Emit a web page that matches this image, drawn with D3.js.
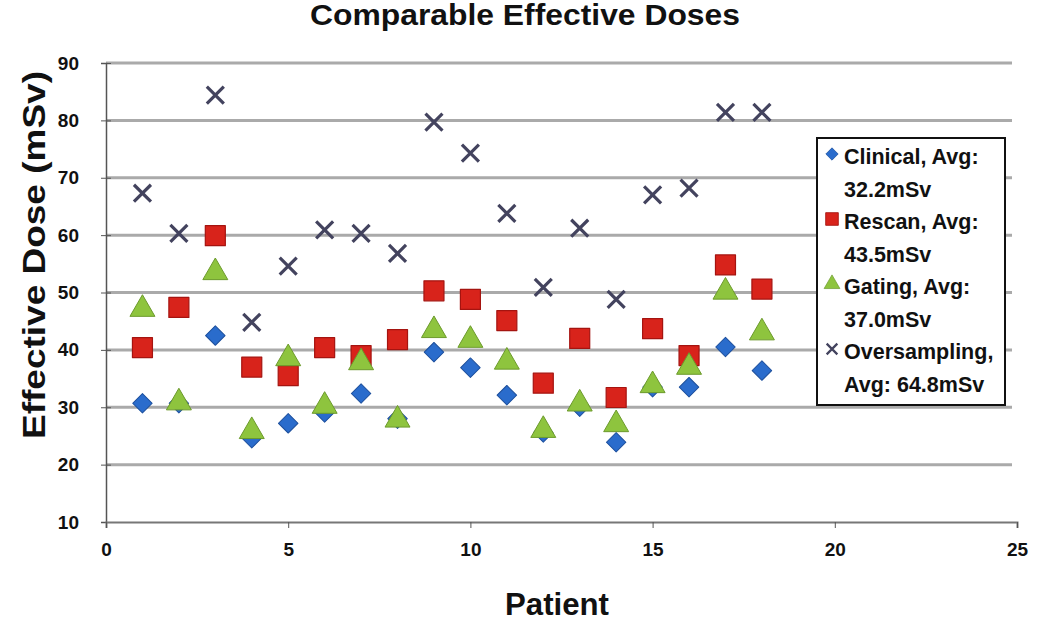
<!DOCTYPE html>
<html><head><meta charset="utf-8">
<script src="https://cdn.jsdelivr.net/npm/d3@7"></script>
<style>
html,body{margin:0;padding:0;background:#fff;}
text{font-family:"Liberation Sans",Arial,sans-serif;font-weight:bold;fill:#111;}
</style></head>
<body><svg id="chart" width="1050" height="624"></svg>
<script>
const patients = [1,2,3,4,5,6,7,8,9,10,11,12,13,14,15,16,17,18];
const clinical = [30.7,30.7,42.5,24.6,27.2,29.1,32.4,28.0,39.6,36.9,32.1,25.6,30.1,23.9,33.5,33.5,40.5,36.4];
const rescan = [40.4,47.4,59.9,37.0,35.5,40.4,39.0,41.8,50.3,48.8,45.1,34.2,42.0,31.7,43.7,39.0,54.8,50.6];
const gating = [47.1,30.8,53.5,25.8,38.5,30.2,37.8,27.8,43.4,41.7,37.9,26.0,30.6,27.0,33.8,37.0,50.1,43.0];
const oversampling = [67.3,60.3,84.4,44.8,54.6,60.9,60.3,56.8,79.7,74.3,63.8,50.9,61.2,48.8,67.0,68.2,81.4,81.4];
const xTicks = [0,5,10,15,20,25];
const yTicks = [10,20,30,40,50,60,70,80,90];
const seriesNames = ["Clinical, Avg:|32.2mSv","Rescan, Avg:|43.5mSv","Gating, Avg:|37.0mSv","Oversampling,|Avg: 64.8mSv"];

const svg = d3.select("#chart");
const x = d3.scaleLinear().domain([0,25]).range([106,1017]);
const y = d3.scaleLinear().domain([10,90]).range([522,63]);

// title
svg.append("text").attr("x",525).attr("y",25).attr("text-anchor","middle")
  .attr("font-size",29).attr("textLength",430).attr("lengthAdjust","spacingAndGlyphs")
  .text("Comparable Effective Doses");

// gridlines
svg.append("g").selectAll("line").data(yTicks.filter(d=>d>10)).join("line")
  .attr("x1",x(0)).attr("x2",x(25)-5).attr("y1",d=>y(d)).attr("y2",d=>y(d))
  .attr("stroke","#aaaaaa").attr("stroke-width",3);

// axes
const yAxis = svg.append("g").attr("transform",`translate(${x(0)},0)`)
  .call(d3.axisLeft(y).tickValues(yTicks).tickSize(5).tickPadding(22));
yAxis.select(".domain").attr("stroke","#555").attr("stroke-width",1.5);
yAxis.selectAll(".tick line").attr("stroke","#555").attr("x1",5).attr("x2",-5);
yAxis.selectAll(".tick text").attr("font-size",19).attr("font-family","Liberation Sans, Arial, sans-serif").attr("font-weight","bold").attr("fill","#111");

const xAxis = svg.append("g").attr("transform",`translate(0,${y(10)})`)
  .call(d3.axisBottom(x).tickValues(xTicks).tickSize(6).tickPadding(15));
xAxis.select(".domain").attr("stroke","#777").attr("stroke-width",2);
xAxis.selectAll(".tick line").attr("stroke","#555");
xAxis.selectAll(".tick text").attr("font-size",19).attr("font-family","Liberation Sans, Arial, sans-serif").attr("font-weight","bold").attr("fill","#111");

// axis titles
svg.append("text").attr("x",557).attr("y",615).attr("text-anchor","middle")
  .attr("font-size",31).attr("textLength",104).attr("lengthAdjust","spacingAndGlyphs").text("Patient");
svg.append("text").attr("transform","translate(45,255) rotate(-90)").attr("text-anchor","middle")
  .attr("font-size",32).attr("textLength",368).attr("lengthAdjust","spacingAndGlyphs")
  .text("Effective Dose (mSv)");

// markers
const styles = [
  {sym:d3.symbolSquare,size:190,rot:45,fill:"#2a6ccc",stroke:"#1d4f9c",sw:1},
  {sym:d3.symbolSquare,size:400,rot:0,fill:"#d8231b",stroke:"#a51410",sw:1.2},
  {sym:d3.symbolTriangle,size:270,rot:0,fill:"#8ec43e",stroke:"#6c9a2c",sw:1},
  {sym:d3.symbolTimes,size:190,rot:0,fill:"none",stroke:"#43435e",sw:3.2}
];
const data = [clinical,rescan,gating,oversampling];
data.forEach((vals,i)=>{
  const st = styles[i];
  svg.append("g").selectAll("path").data(vals).join("path")
    .attr("transform",(d,j)=>`translate(${x(patients[j])},${y(d)}) rotate(${st.rot})`)
    .attr("d",d3.symbol(st.sym,st.size))
    .attr("fill",st.fill).attr("stroke",st.stroke).attr("stroke-width",st.sw)
    .attr("stroke-linejoin","round");
});

// legend
const lg = svg.append("g");
lg.append("rect").attr("x",817).attr("y",138).attr("width",188).attr("height",267)
  .attr("fill","#fff").attr("stroke","#111").attr("stroke-width",2);
const lineY = [157,189.5,222,254.5,287,319.5,352,384.5];
seriesNames.forEach((nm,i)=>{
  const st = styles[i];
  const parts = nm.split("|");
  lg.append("path").attr("transform",`translate(832,${lineY[2*i]-3}) rotate(${st.rot})`)
    .attr("d",d3.symbol(st.sym,st.size*0.4))
    .attr("fill",st.fill).attr("stroke",st.stroke).attr("stroke-width",st.sw*0.7);
  lg.append("text").attr("x",844).attr("y",lineY[2*i]+7).attr("font-size",21.5).text(parts[0]);
  lg.append("text").attr("x",844).attr("y",lineY[2*i+1]+7).attr("font-size",21.5).text(parts[1]);
});
</script></body></html>
